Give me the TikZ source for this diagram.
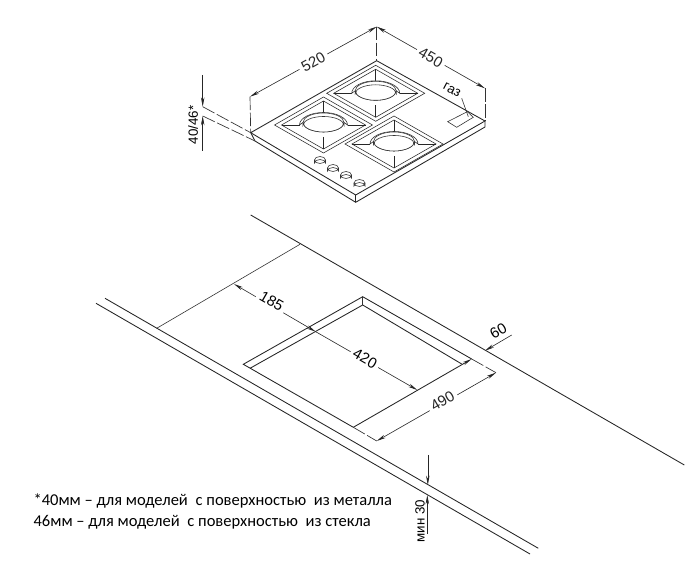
\documentclass[tikz,border=0pt]{standalone}
\usepackage{fontspec}
\setmainfont{Liberation Sans}
\newfontfamily\notefont{Carlito}
\usetikzlibrary{arrows.meta}

\tikzset{
    edge/.style={line width=0.65pt, black!85},
    thinedge/.style={line width=0.45pt, black!80},
    dimline/.style={line width=0.45pt, black!85},
    dimtip/.style={-{Stealth[length=7pt, width=2.6pt]}},
    dimtips/.style={{Stealth[length=7pt, width=2.6pt]}-{Stealth[length=7pt, width=2.6pt]}},
    extline/.style={line width=0.5pt, black!80, dash pattern=on 10pt off 2pt},
    dimlabel/.style={font=\fontsize{11.2}{13}\selectfont, fill=white, inner sep=2.5pt},
    smalllabel/.style={font=\fontsize{10}{12}\selectfont, inner sep=1pt},
    note/.style={font=\notefont\fontsize{12.4}{14}\selectfont, anchor=west, inner sep=0pt},
    burner/.pic={
        \draw[thinedge] (0,-28) -- (49,0) -- (0,28) -- (-49,0) -- cycle;
        \draw[thinedge] (0,-24) -- (42,0) -- (0,24) -- (-42,0) -- cycle;
        \draw[edge] (-42,0) -- (-24,0) (24,0) -- (42,0) (0,-24) -- (0,-12) (0,12) -- (0,24);
        \draw[thinedge, fill=white] (-24,0) arc[start angle=180, end angle=360, x radius=24, y radius=12.5]
            -- (20.5,-2.5) arc[start angle=0, end angle=-180, x radius=20.5, y radius=-9.5] -- cycle;
        \draw[thinedge, fill=white] (0,-2.5) ellipse[x radius=20.5, y radius=9.5];
        \draw[thinedge] (-20.5,-2.5) -- (-20.5,0.5) arc[start angle=180, end angle=360, x radius=20.5, y radius=9] -- (20.5,-2.5);
    },
    knob/.pic={
        \draw[thinedge] (-5.5,-1) -- (-5.5,2) arc[start angle=180, end angle=360, x radius=5.5, y radius=3.5] -- (5.5,-1);
        \draw[thinedge] (0,-1) ellipse[x radius=5.5, y radius=3.5];
    }
}

\begin{document}
\begin{tikzpicture}[x=0.75pt, y=-0.75pt]
    \useasboundingbox (0,0) rectangle (696,580);

    % Hob corners
    \coordinate (hobtop) at (376.7,60.7);
    \coordinate (hobleft) at (250.7,132.7);
    \coordinate (hobfront) at (355.7,195);
    \coordinate (hobright) at (485,121);
    \coordinate (lipleft) at (255,141);
    \coordinate (lipfront) at (355.7,202.3);
    \coordinate (lipright) at (485,127);

    % Hob body
    \draw[edge] (hobtop) -- (hobright) -- (hobfront) -- (hobleft) -- cycle;
    \draw[edge] (hobleft) -- (lipleft) -- (lipfront) -- (lipright) -- (hobright);
    \draw[edge] (hobfront) -- (lipfront);

    % Burners
    \pic at (375.7,93.3) {burner};
    \pic at (323.5,125) {burner};
    \pic at (394,144) {burner};

    % Knobs
    \pic at (320,161) {knob};
    \pic at (333,169) {knob};
    \pic at (346,176) {knob};
    \pic at (359.5,184) {knob};

    % Gas inlet
    \draw[thinedge] (447.7,121.7) -- (467.3,111.7) -- (473.3,117.3) -- (456.7,127.3) -- cycle;
    \coordinate (gastip) at (468.3,116.7);
    \node[smalllabel, rotate=-28] (gas) at (452,90) {газ};
    \draw[thinedge] (461.7,98.3) -- (gastip);

    % Hob dimensions
    \coordinate (widthl) at (250,96.7);
    \coordinate (widthr) at (376.7,26.7);
    \coordinate (deepr) at (485,88.3);
    \draw[extline] (widthl) -- (hobleft);
    \draw[extline] (widthr) -- (hobtop);
    \draw[extline] (deepr) -- (hobright);
    \draw[dimline, dimtips] (widthl) -- (widthr) node[midway, dimlabel, rotate=29] (w520) {520};
    \draw[dimline, dimtips] (widthr) -- (deepr) node[midway, dimlabel, rotate=-30] (d450) {450};

    % Hob height
    \coordinate (hup) at (202.7,106.7);
    \coordinate (hlow) at (202.7,116);
    \draw[extline] (hup) -- (hobleft);
    \draw[extline] (hlow) -- (lipleft);
    \draw[dimline, dimtip] (202.7,75) -- (hup);
    \draw[dimline, dimtip] (202.7,151) -- (hlow);
    \node[smalllabel, rotate=90] (h4046) at (193,125) {40/46*};

    % Worktop
    \coordinate (backa) at (250.7,215);
    \coordinate (backb) at (684.3,465);
    \coordinate (fronta) at (105,298.3);
    \coordinate (frontb) at (538.3,548.3);
    \coordinate (lowa) at (96,303.3);
    \coordinate (lowb) at (530,554);
    \draw[edge] (backa) -- (backb);
    \draw[edge] (fronta) -- (frontb);
    \draw[edge] (lowa) -- (lowb);
    \coordinate (wingb) at (300,244.3);
    \coordinate (winga) at (156.7,328.3);
    \draw[thinedge] (winga) -- (wingb);

    % Cut-out
    \coordinate (cuttop) at (362.7,296.7);
    \coordinate (cutleft) at (243.3,364.3);
    \coordinate (cutright) at (471.7,359);
    \coordinate (cutfront) at (353.3,427.3);
    \coordinate (intop) at (362.7,305);
    \coordinate (inleft) at (250,368.3);
    \coordinate (inright) at (461.7,364);
    \draw[edge] (cutright) -- (cuttop) -- (cutleft) -- (cutfront);
    \draw[thinedge] (cuttop) -- (intop);
    \draw[edge] (inleft) -- (intop) -- (inright);

    % Cut-out dimensions
    \coordinate (d185a) at (234,284);
    \coordinate (d185b) at (315.7,331.7);
    \coordinate (d420b) at (417.3,390);
    \coordinate (d490a) at (376.7,441);
    \coordinate (d490b) at (496,372.7);
    \draw[edge, dimtip] (cutfront) -- (cutright);
    \draw[dimline, dimtips] (d185a) -- (d185b);
    \draw[dimline, dimtip] (d185b) -- (d420b);
    \node[dimlabel, rotate=-30] (l185) at (271.7,301) {185};
    \node[dimlabel, rotate=-30] (l420) at (365,358.5) {420};
    \draw[extline] (cutfront) -- (d490a);
    \draw[extline] (cutright) -- (d490b);
    \draw[dimline, dimtips] (d490a) -- (d490b) node[pos=0.56, dimlabel, rotate=30, yshift=1.5pt] (l490) {490};

    % Edge distances
    \coordinate (d60a) at (485,350.7);
    \draw[dimline, dimtip] (511.7,335) -- (d60a);
    \node[dimlabel, rotate=30, fill=none] (l60) at (498.3,331) {60};
    \coordinate (m30a) at (427.8,485);
    \coordinate (m30b) at (427.3,495);
    \draw[dimline, dimtip] (427.8,455) -- (m30a);
    \draw[dimline, dimtip] (427.3,534) -- (m30b);
    \node[smalllabel, rotate=90] (m30) at (420,521) {мин 30};

    % Notes
    \node[note] (n40) at (33.3,501) {*40мм – для моделей\hspace{3pt} с поверхностью\hspace{3pt} из металла};
    \node[note] (n46) at (33.3,522) {46мм – для моделей\hspace{3pt} с поверхностью\hspace{3pt} из стекла};
\end{tikzpicture}
\end{document}
